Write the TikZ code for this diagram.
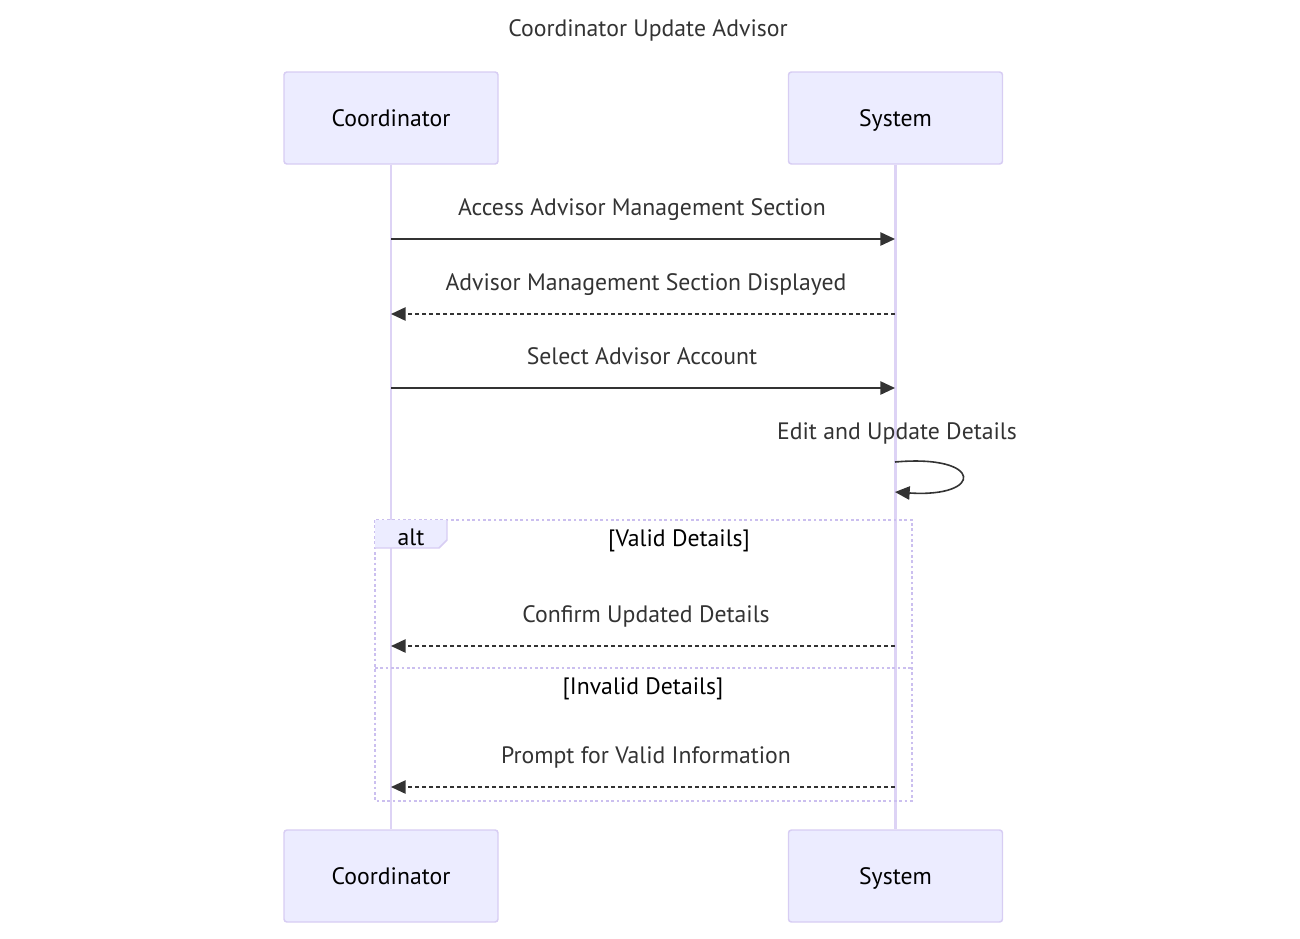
\documentclass[tikz,border=0pt]{standalone}
\usepackage{fontspec}
\setmainfont{PT Sans}
\usetikzlibrary{arrows.meta}
\definecolor{actfill}{HTML}{ECECFF}
\definecolor{actline}{HTML}{D7CDF3}
\definecolor{altline}{HTML}{CBBFEF}
\definecolor{lifeline}{HTML}{DDD3F5}
\definecolor{txt}{HTML}{333333}
\newcommand\dfont{\fontsize{17.8pt}{21pt}\selectfont}
\tikzset{
  txtbase/.style={font=\dfont, inner sep=0pt, text height=0.75em, text depth=0.05em, yshift=-3pt},
  actor/.style={draw=actline, fill=actfill, line width=1.1pt, rounded corners=2.2pt,
    minimum width=160.5pt, minimum height=69pt, inner sep=0pt,
    font=\dfont, text=black, text height=0.75em, text depth=0.05em},
  life/.style={draw=lifeline, line width=1.9pt},
  msg/.style={draw=txt, line width=1.2pt, -{Triangle[length=11pt,width=10pt]}},
  reply/.style={msg, dash pattern=on 3pt off 2.25pt},
  lbl/.style={txtbase, text=txt},
  guard/.style={txtbase, text=black},
  altbox/.style={draw=altline, line width=1.8pt, dash pattern=on 2pt off 2pt},
  tabline/.style={draw=actline, line width=1.1pt},
}
\begin{document}
\begin{tikzpicture}[x=0.75pt,y=-0.75pt]
\useasboundingbox (0,0) rectangle (1300,939);
\node[lbl] (title) at (648,28) {Coordinator Update Advisor};
\node[actor] (ct) at (391,118) {\raisebox{-3pt}{Coordinator}};
\node[actor] (st) at (895.5,118) {\raisebox{-3pt}{System}};
\node[actor] (cb) at (391,876) {\raisebox{-3pt}{Coordinator}};
\node[actor] (sb) at (895.5,876) {\raisebox{-3pt}{System}};
\draw[life] (ct.south) -- (cb.north);
\draw[life] (st.south) -- (sb.north);
% alt frame
\draw[altbox] (375,520) rectangle (912,801);
\draw[altbox] (375,668) -- (912,668);
\fill[actfill] (375,520) -- (447,520) -- (447,540) -- (439,548) -- (375,548) -- cycle;
\draw[tabline] (375,548) -- (439,548) -- (447,540) -- (447,520);
\node[guard] (altlbl) at (411,537) {alt};
\node[guard] (g1) at (679,538) {[Valid Details]};
\node[guard] (g2) at (643,686) {[Invalid Details]};
% messages
\coordinate (c1) at (391,239); \coordinate (s1) at (895,239);
\coordinate (c2) at (391,314); \coordinate (s2) at (895,314);
\coordinate (c3) at (391,388); \coordinate (s3) at (895,388);
\coordinate (s4a) at (895,462); \coordinate (s4b) at (895,492);
\coordinate (c5) at (391,646); \coordinate (s5) at (895,646);
\coordinate (c6) at (391,787); \coordinate (s6) at (895,787);
\node[lbl] (m1) at (642,207) {Access Advisor Management Section};
\draw[msg] (c1) -- (s1);
\node[lbl] (m2) at (646,282) {Advisor Management Section Displayed};
\draw[reply] (s2) -- (c2);
\node[lbl] (m3) at (642,356) {Select Advisor Account};
\draw[msg] (c3) -- (s3);
\node[lbl] (m4) at (897,431) {Edit and Update Details};
\draw[msg] (s4a) .. controls (984,454) and (984,498) .. (s4b);
\node[lbl] (m5) at (646,614) {Confirm Updated Details};
\draw[reply] (s5) -- (c5);
\node[lbl] (m6) at (646,755) {Prompt for Valid Information};
\draw[reply] (s6) -- (c6);
\end{tikzpicture}
\end{document}
